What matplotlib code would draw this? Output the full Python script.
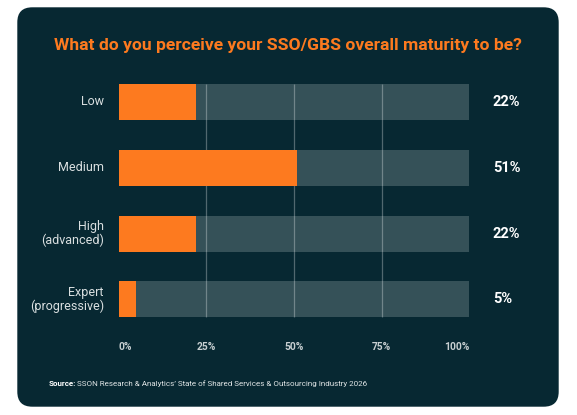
import matplotlib.pyplot as plt
import matplotlib.transforms as mtransforms
from matplotlib.patches import FancyBboxPatch

# dados
categorias = ["Low", "Medium", "High\n(advanced)", "Expert\n(progressive)"]
valores = [22, 51, 22, 5]
rotulos = ["22%", "51%", "22%", "5%"]
ticks = [0, 25, 50, 75, 100]
tick_labels = ["0%", "25%", "50%", "75%", "100%"]

titulo = "What do you perceive your SSO/GBS overall maturity to be?"
fonte = "SSON Research & Analytics\u2019 State of Shared Services & Outsourcing Industry 2026"

# cores
FUNDO = "#072832"
LARANJA = "#FD7A1F"
BARRA_FUNDO = "#355158"

plt.rcParams['font.family'] = ['Roboto', 'DejaVu Sans']

fig = plt.figure(figsize=(5.77, 4.15), dpi=100)
fig.patch.set_facecolor("white")

# cartao arredondado
card = FancyBboxPatch((0.173, 0.083), 5.414, 3.994,
                      boxstyle="round,pad=0,rounding_size=0.15",
                      transform=fig.dpi_scale_trans, facecolor=FUNDO,
                      edgecolor="none", zorder=-5)
fig.patches.append(card)

ax = fig.add_axes([0.2057, 0.199, 0.6076, 0.6352])
ax.set_zorder(2)
ax.set_facecolor("none")
ax.set_xlim(0, 100)
ax.set_ylim(len(categorias) - 0.5, -0.5)
for s in ax.spines.values():
    s.set_visible(False)
ax.set_xticks([])
ax.set_yticks([])

y = list(range(len(categorias)))
altura = 0.546

ax.barh(y, [100] * len(y), height=altura, color=BARRA_FUNDO, zorder=1)
ax.vlines(ticks[1:-1], -altura / 2, len(y) - 1 + altura / 2,
          color="white", alpha=0.3, linewidth=0.9, zorder=2)
ax.barh(y, valores, height=altura, color=LARANJA, zorder=3)

# rotulos das categorias e percentuais
tr_cat = mtransforms.blended_transform_factory(fig.transFigure, ax.transData)
for i in range(len(categorias)):
    ax.text(0.1802, i, categorias[i], transform=tr_cat, ha="right", va="center",
            multialignment="right", fontsize=9.0, color="#d9dfe0", linespacing=1.05,
            clip_on=False)
    ax.text(0.8544, i, rotulos[i], transform=tr_cat, ha="left", va="center",
            fontsize=10.5, fontweight="bold", color="white", clip_on=False)

# eixo x em texto
tr_tick = mtransforms.blended_transform_factory(ax.transData, fig.transFigure)
for t, lab in zip(ticks, tick_labels):
    ha = "left" if t == ticks[0] else ("right" if t == ticks[-1] else "center")
    ax.text(t, 0.1646, lab, transform=tr_tick, ha=ha, va="center",
            fontsize=7.4, fontweight="bold", color="#c8d0d2", clip_on=False)

fig.text(0.4995, 0.8795, titulo, ha="center", va="baseline",
         fontsize=12.6, fontweight="bold", color=LARANJA)

t1 = fig.text(0.0837, 0.0754, "Source:", ha="left", va="center",
              fontsize=5.8, fontweight="bold", color="white")
fig.canvas.draw()
bb = t1.get_window_extent()
fig.text(bb.x1 / fig.bbox.width + 0.003, 0.0754, fonte,
         ha="left", va="center", fontsize=5.8, color="#e0e5e6")

fig.savefig("out.png", dpi=100, facecolor="white")
